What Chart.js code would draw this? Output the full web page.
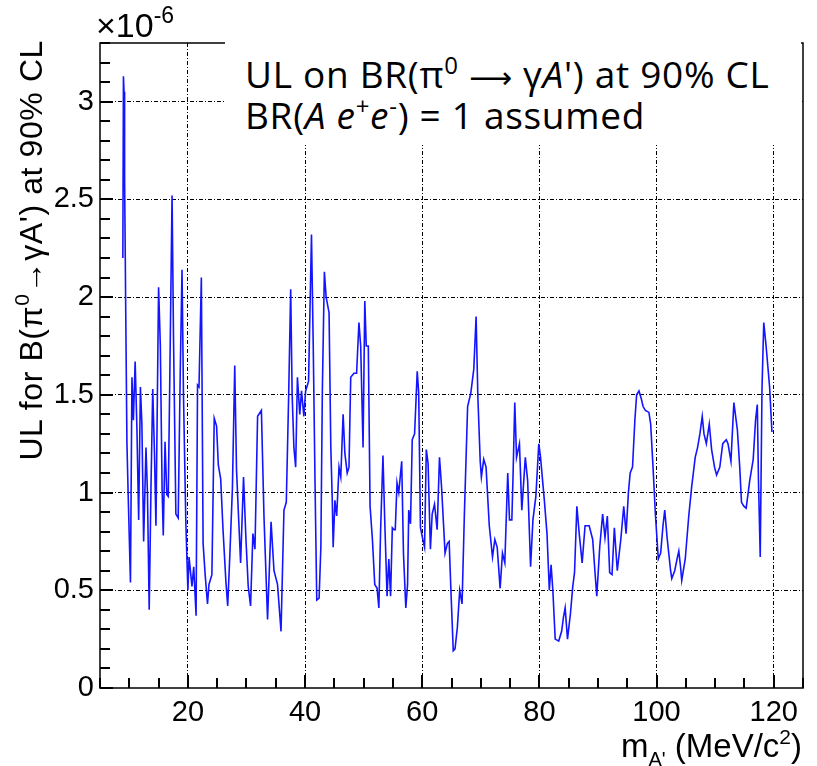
<!DOCTYPE html>
<html>
<head>
<meta charset="utf-8">
<script src="https://cdn.jsdelivr.net/npm/chart.js@4.4.0/dist/chart.umd.min.js"></script>
<style>
  html, body { margin: 0; padding: 0; background: #fff; }
  #wrap { position: relative; width: 817px; height: 766px; overflow: hidden; }
  #grafico { position: absolute; left: 0; top: 0; }
  .lbl { position: absolute; font-family: "Liberation Sans", Arial, sans-serif; color: #000; white-space: nowrap; }
  #exp { left: 96px; top: 8px; font-size: 34px; line-height: 34px; }
  #exp span { font-size: 23px; position: relative; top: -14px; }
  #ytitle { left: 15px; top: 472px; width: 432px; text-align: right; font-size: 32px; line-height: 32px;
            letter-spacing: 0.6px; transform-origin: 0 0; transform: rotate(-90deg); }
  #ytitle .sup { font-size: 21px; position: relative; top: -13px; }
  #xtitle { right: 15px; top: 729px; font-size: 33px; line-height: 33px; }
  #xtitle .sub { font-size: 20px; position: relative; top: 9px; }
  #xtitle .sup { font-size: 21px; position: relative; top: -13px; }
  #caja { position: absolute; left: 225px; top: 38px; width: 576px; height: 107px; background: #fff;
          font-family: "Open Sans", sans-serif; font-size: 37px; line-height: 36px; color: #000;
          letter-spacing: 0.7px; padding: 18px 0 0 20px; box-sizing: border-box; white-space: nowrap; }
  #caja .sup { font-size: 24px; position: relative; top: -14px; }
  #caja .flecha { font-family: "DejaVu Sans", sans-serif; font-size: 30px; }
</style>
</head>
<body>
<div id="wrap">
  <canvas id="grafico" width="817" height="766"></canvas>
  <div class="lbl" id="exp">&times;10<span>-6</span></div>
  <div class="lbl" id="ytitle">UL for B(&pi;<span class="sup">0</span>&rarr;&gamma;A') at 90% CL</div>
  <div class="lbl" id="xtitle">m<span class="sub">A'</span> (MeV/c<span class="sup">2</span>)</div>
  <div id="caja">
    <div>UL on BR(&pi;<span class="sup">0</span> <span class="flecha">&#10230;</span> &gamma;<i>A</i>') at 90% CL</div>
    <div>BR(<i>A e</i><span class="sup">+</span><i>e</i><span class="sup">-</span>) = 1 assumed</div>
  </div>
</div>
<script>
// masa del A' (MeV/c^2)
const massValues = [
  8.9, 9.0, 9.1, 9.2, 9.4, 9.6, 9.8, 10.2, 10.45, 10.7, 11.0, 11.3, 11.6, 11.9, 12.15, 12.45, 12.85, 13.1, 13.4, 13.7,
  14.0, 14.3, 14.55, 15.0, 15.3, 15.6, 15.8, 16.1, 16.4, 16.65, 16.9, 17.3, 17.55, 17.95, 18.35, 18.7, 19.0, 19.25, 19.65, 20.0,
  20.2, 20.7, 21.0, 21.4, 21.65, 21.9, 22.3, 22.6, 22.95, 23.35, 23.6, 24.1, 24.5, 24.9, 25.2, 25.6, 26.0, 26.5, 26.8, 27.15,
  27.6, 28.0, 28.3, 28.6, 29.0, 29.5, 29.9, 30.3, 30.7, 31.1, 31.45, 31.9, 32.55, 33.0, 33.6, 34.2, 34.7, 35.3, 35.9, 36.4,
  36.8, 37.2, 37.55, 37.8, 38.1, 38.4, 38.7, 39.1, 39.4, 39.8, 40.1, 40.6, 41.1, 41.4, 41.7, 42.0, 42.4, 42.7, 42.95, 43.3,
  43.6, 44.1, 44.4, 44.65, 44.8, 45.1, 45.4, 45.8, 46.1, 46.5, 46.8, 47.2, 47.5, 47.8, 48.35, 48.8, 49.2, 49.5, 49.9, 50.2,
  50.45, 50.8, 51.1, 51.5, 51.9, 52.3, 52.6, 52.9, 53.3, 53.6, 54.0, 54.3, 54.6, 54.9, 55.2, 55.4, 55.7, 56.0, 56.5, 56.8,
  57.2, 57.5, 57.7, 58.0, 58.3, 58.7, 59.15, 59.4, 59.7, 60.1, 60.4, 60.7, 61.0, 61.4, 61.7, 62.1, 62.55, 62.95, 63.3, 63.9,
  64.3, 64.6, 64.9, 65.3, 65.6, 66.0, 66.4, 66.8, 67.2, 67.75, 68.3, 68.8, 69.2, 69.5, 69.9, 70.1, 70.5, 70.9, 71.45, 72.0,
  72.4, 72.8, 73.3, 73.7, 74.1, 74.6, 74.9, 75.3, 75.5, 75.8, 76.1, 76.6, 77.0, 77.6, 78.0, 78.5, 78.9, 79.4, 79.9, 80.2,
  80.85, 81.3, 81.7, 82.0, 82.3, 82.7, 83.3, 83.8, 84.1, 84.4, 84.8, 85.3, 85.7, 86.0, 86.4, 86.8, 87.3, 87.8, 88.5, 89.1,
  89.5, 89.8, 90.3, 90.8, 91.2, 91.6, 92.0, 92.4, 92.8, 93.3, 93.9, 94.4, 94.8, 95.2, 95.5, 95.9, 96.3, 96.6, 97.0, 97.4,
  97.7, 98.1, 98.7, 99.0, 99.4, 99.8, 100.3, 100.7, 101.1, 101.4, 101.8, 102.4, 102.6, 103.1, 103.5, 103.8, 104.1, 104.3, 104.9, 105.5,
  106.0, 106.6, 107.0, 107.4, 107.8, 108.1, 108.5, 109.0, 109.4, 109.9, 110.25, 110.8, 111.3, 111.9, 112.2, 112.7, 112.9, 113.2, 113.8, 114.2,
  114.5, 114.9, 115.3, 115.9, 116.5, 116.9, 117.2, 117.4, 117.7, 118.0, 118.3, 118.7, 119.3, 119.7
];
// limite superior (x 10^-6)
const ulValues = [
  2.2, 3.13, 3.05, 2.6, 1.9, 1.25, 1.0, 0.54, 1.59, 1.37, 1.67, 1.33, 0.86, 1.54, 1.35, 0.75, 1.23, 1.0, 0.4, 1.02,
  1.53, 1.2, 0.83, 2.05, 1.75, 1.02, 0.78, 1.26, 0.99, 0.98, 1.55, 2.52, 1.79, 0.89, 0.87, 1.62, 2.14, 1.5, 0.85, 0.5,
  0.67, 0.52, 0.62, 0.37, 1.55, 1.54, 2.1, 0.74, 0.58, 0.43, 0.53, 0.58, 1.38, 1.34, 1.14, 1.07, 0.81, 0.54, 0.42, 0.67,
  1.02, 1.65, 1.12, 0.91, 0.64, 1.08, 0.77, 0.52, 0.42, 0.79, 0.71, 1.39, 1.42, 0.87, 0.35, 0.85, 0.6, 0.53, 0.29, 0.91,
  0.95, 1.49, 2.04, 1.5, 1.23, 1.13, 1.59, 1.4, 1.52, 1.39, 1.52, 1.57, 2.32, 1.75, 1.06, 0.45, 0.46, 0.72, 1.51, 2.13,
  2.0, 1.92, 1.23, 0.96, 0.72, 0.96, 0.88, 1.13, 1.08, 1.4, 1.2, 1.1, 1.13, 1.59, 1.61, 1.61, 1.87, 1.75, 1.23, 1.98,
  1.75, 1.75, 0.93, 0.76, 0.53, 0.51, 0.41, 0.81, 1.19, 0.86, 0.47, 0.66, 0.47, 0.82, 0.81, 0.81, 1.05, 1.0, 1.16, 0.69,
  0.41, 0.53, 0.91, 0.84, 1.27, 1.3, 1.62, 1.51, 0.82, 0.76, 0.72, 1.22, 1.15, 0.71, 0.89, 0.94, 0.81, 1.18, 1.03, 0.69,
  0.74, 0.75, 0.5, 0.19, 0.2, 0.31, 0.5, 0.43, 0.89, 1.44, 1.51, 1.63, 1.9, 1.49, 1.16, 1.08, 1.17, 1.13, 0.83, 0.67,
  0.76, 0.72, 0.51, 0.69, 0.64, 1.1, 0.86, 0.86, 1.08, 1.46, 1.18, 1.25, 0.91, 1.18, 1.06, 0.62, 0.86, 0.98, 1.25, 1.18,
  0.96, 0.79, 0.5, 0.63, 0.5, 0.25, 0.24, 0.29, 0.36, 0.41, 0.25, 0.38, 0.52, 0.59, 0.93, 0.79, 0.64, 0.83, 0.83, 0.76,
  0.59, 0.47, 0.72, 0.89, 0.77, 0.88, 0.59, 0.58, 0.82, 0.6, 0.76, 0.93, 0.79, 1.0, 1.1, 1.13, 1.37, 1.5, 1.52, 1.48,
  1.44, 1.42, 1.41, 1.35, 1.13, 0.89, 0.66, 0.69, 0.83, 0.91, 0.77, 0.6, 0.56, 0.6, 0.66, 0.7, 0.62, 0.55, 0.66, 0.88,
  1.03, 1.18, 1.23, 1.3, 1.39, 1.3, 1.25, 1.35, 1.22, 1.13, 1.09, 1.13, 1.25, 1.27, 1.25, 1.16, 1.28, 1.46, 1.32, 1.13,
  0.95, 0.93, 0.92, 1.06, 1.17, 1.37, 1.45, 1.06, 0.67, 1.53, 1.87, 1.75, 1.54, 1.31
];
const xTickLabels = [20, 40, 60, 80, 100, 120];
const yTickLabels = [0, 0.5, 1, 1.5, 2, 2.5, 3];

const grafico = document.getElementById("grafico");

const esMayorY = (v) => yTickLabels.some((t) => Math.abs(t - v) < 1e-6);

// marco y marcas hacia adentro, como en ROOT
const marcoPlugin = {
  id: "marco",
  afterDraw(chart) {
    const { ctx, chartArea: a, scales } = chart;
    ctx.save();
    ctx.fillStyle = "#000";
    for (let v = 5; v <= 125; v += 5) {
      const px = Math.round(scales.x.getPixelForValue(v));
      const len = xTickLabels.includes(v) ? 13 : 10;
      ctx.fillRect(px - 1, a.bottom - len, 2, len);
    }
    for (let i = 0; i <= 33; i++) {
      const py = Math.round(scales.y.getPixelForValue(i / 10));
      const len = esMayorY(i / 10) ? 13 : 10;
      ctx.fillRect(a.left, py - 1, len, 2);
    }
    ctx.strokeStyle = "#000";
    ctx.lineWidth = 1.5;
    ctx.strokeRect(a.left, a.top, a.right - a.left, a.bottom - a.top);
    ctx.restore();
  }
};

const puntos = massValues.map((m, i) => ({ x: m, y: ulValues[i] }));

const config = {
  type: "line",
  data: {
    datasets: [
      {
        data: puntos,
        borderColor: "rgb(20, 20, 255)",
        borderWidth: 1.6,
        pointRadius: 0,
        tension: 0,
        fill: false
      }
    ]
  },
  options: {
    responsive: false,
    animation: false,
    events: [],
    layout: { padding: { top: 43, right: 14, left: 0, bottom: 0 } },
    plugins: { legend: { display: false }, tooltip: { enabled: false } },
    scales: {
      x: {
        type: "linear",
        min: 5,
        max: 125,
        afterBuildTicks: (s) => {
          s.ticks = [];
          for (let v = 5; v <= 125; v += 5) s.ticks.push({ value: v });
        },
        afterFit: (s) => { s.height = 78; },
        ticks: {
          autoSkip: false,
          maxRotation: 0,
          padding: 8,
          color: "#000",
          font: { family: "Liberation Sans", size: 29 },
          callback: (v) => (xTickLabels.includes(v) ? String(v) : "")
        },
        grid: {
          drawTicks: false,
          lineWidth: 1,
          color: (c) => (c.tick && xTickLabels.includes(c.tick.value) ? "#000" : "rgba(0,0,0,0)")
        },
        border: { display: false, dash: [4, 2, 1, 2] }
      },
      y: {
        type: "linear",
        min: 0,
        max: 3.3,
        afterBuildTicks: (s) => {
          s.ticks = [];
          for (let i = 0; i <= 33; i++) s.ticks.push({ value: i / 10 });
        },
        afterFit: (s) => { s.width = 100; },
        ticks: {
          autoSkip: false,
          padding: 6,
          color: "#000",
          font: { family: "Liberation Sans", size: 29 },
          callback: (v) => (esMayorY(v) ? String(yTickLabels.find((t) => Math.abs(t - v) < 1e-6)) : "")
        },
        grid: {
          drawTicks: false,
          lineWidth: 1,
          color: (c) => (c.tick && esMayorY(c.tick.value) && c.tick.value > 0 ? "#000" : "rgba(0,0,0,0)")
        },
        border: { display: false, dash: [4, 2, 1, 2] }
      }
    }
  },
  plugins: [marcoPlugin]
};

new Chart(grafico, config);
</script>
</body>
</html>
